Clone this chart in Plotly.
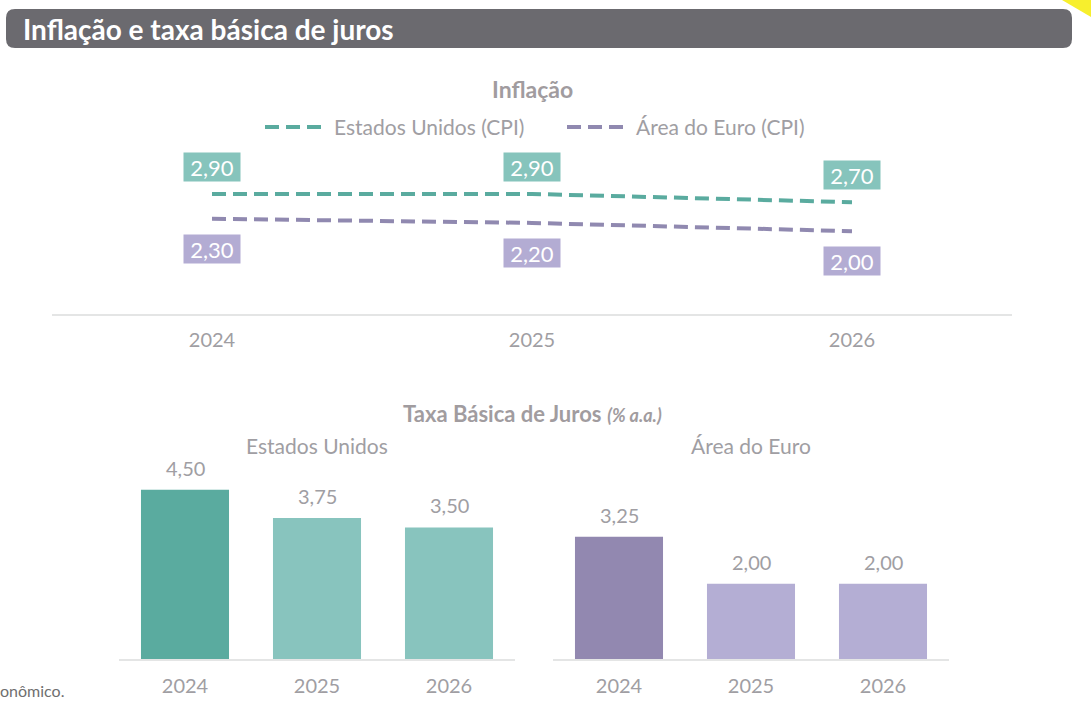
import plotly.graph_objects as go

# ---------------- data ----------------
years = ["2024", "2025", "2026"]
cpi_us = [2.90, 2.90, 2.70]
cpi_ea = [2.30, 2.20, 2.00]
rate_us = [4.50, 3.75, 3.50]
rate_ea = [3.25, 2.00, 2.00]

series_names = ["Estados Unidos (CPI)", "Área do Euro (CPI)"]
panel_names = ["Estados Unidos", "Área do Euro"]

# ---------------- styles ----------------
W, H = 1091, 709
FONT = "Lato"
TEAL_LINE = "#5aab9f"
PURP_LINE = "#9089b0"
TEAL_BOX = "#86c4bc"
PURP_BOX = "#b3acd3"
US_BAR = ["#5aab9f", "#88c4be", "#88c4be"]
EA_BAR = ["#9288b0", "#b4aed4", "#b4aed4"]
TXT = "#a19c9f"
TICK = "#a09ea3"
AXLINE = "#e4e5e5"
DASH = "14px,7px"


def px(x):
    return x / W


def py(y):
    return 1 - y / H


def fmt(v):
    return f"{v:.2f}".replace(".", ",")


fig = go.Figure()

# inflation lines
fig.add_trace(go.Scatter(x=years, y=cpi_us, mode="lines", name=series_names[0],
                         line=dict(color=TEAL_LINE, width=4, dash=DASH),
                         xaxis="x", yaxis="y", showlegend=False, hoverinfo="skip"))
fig.add_trace(go.Scatter(x=years, y=cpi_ea, mode="lines", name=series_names[1],
                         line=dict(color=PURP_LINE, width=4, dash=DASH),
                         xaxis="x", yaxis="y", showlegend=False, hoverinfo="skip"))

# bars
fig.add_trace(go.Bar(x=years, y=rate_us, marker=dict(color=US_BAR, line=dict(width=0)),
                     xaxis="x2", yaxis="y2", showlegend=False, hoverinfo="skip"))
fig.add_trace(go.Bar(x=years, y=rate_ea, marker=dict(color=EA_BAR, line=dict(width=0)),
                     xaxis="x3", yaxis="y3", showlegend=False, hoverinfo="skip"))

ann = []
box = dict(showarrow=False, width=56, height=28, borderpad=0, align="center", valign="middle",
           font=dict(family=FONT, size=22, color="white"))
# line value boxes
for i, v in enumerate(cpi_us):
    ann.append(dict(x=i, y=v, xref="x", yref="y", text=fmt(v), yshift=27, bgcolor=TEAL_BOX, **box))
for i, v in enumerate(cpi_ea):
    ann.append(dict(x=i, y=v, xref="x", yref="y", text=fmt(v), yshift=-30, bgcolor=PURP_BOX, **box))
# bar value labels
for i, v in enumerate(rate_us):
    ann.append(dict(x=i, y=v, xref="x2", yref="y2", text=fmt(v), showarrow=False,
                    yanchor="bottom", yshift=8,
                    font=dict(family=FONT, size=20, color=TICK)))
for i, v in enumerate(rate_ea):
    ann.append(dict(x=i, y=v, xref="x3", yref="y3", text=fmt(v), showarrow=False,
                    yanchor="bottom", yshift=8,
                    font=dict(family=FONT, size=20, color=TICK)))

# header title
ann.append(dict(x=px(21), y=py(29), xref="paper", yref="paper", xanchor="left", yanchor="middle",
                text="<b>Inflação e taxa básica de juros</b>", showarrow=False,
                font=dict(family=FONT, size=28, color="white")))
# chart titles
ann.append(dict(x=px(532), y=py(89), xref="paper", yref="paper", xanchor="center", yanchor="middle",
                text="<b>Inflação</b>", showarrow=False,
                font=dict(family=FONT, size=23, color=TXT)))
ann.append(dict(x=px(532), y=py(413), xref="paper", yref="paper", xanchor="center", yanchor="middle",
                text="<b>Taxa Básica de Juros</b> <b><i><span style='font-size:18px'>(% a.a.)</span></i></b>",
                showarrow=False, font=dict(family=FONT, size=22, color=TXT)))
ann.append(dict(x=px(317), y=py(445), xref="paper", yref="paper", xanchor="center", yanchor="middle",
                text=panel_names[0], showarrow=False, font=dict(family=FONT, size=21, color=TICK)))
ann.append(dict(x=px(751), y=py(445), xref="paper", yref="paper", xanchor="center", yanchor="middle",
                text=panel_names[1], showarrow=False, font=dict(family=FONT, size=21, color=TICK)))

# manual legend
shapes = []
leg = [(265, 322, 332, TEAL_LINE, series_names[0]), (567, 624, 634, PURP_LINE, series_names[1])]
for x0, x1, tx, col, name in leg:
    shapes.append(dict(type="line", xref="paper", yref="paper", x0=px(x0), x1=px(x1),
                       y0=py(127), y1=py(127), line=dict(color=col, width=4, dash=DASH)))
    ann.append(dict(x=px(tx), y=py(127), xref="paper", yref="paper", xanchor="left", yanchor="middle",
                    text=name, showarrow=False, font=dict(family=FONT, size=21, color=TICK)))

# footnote fragment
ann.append(dict(x=px(-2), y=py(690), xref="paper", yref="paper", xanchor="left", yanchor="middle",
                text="onômico.", showarrow=False, font=dict(family=FONT, size=16, color="#6f6f6f")))

# header bar (rounded rect)
x0, x1, y0, y1, r = 6, 1072, 9, 48, 9


def P(x, y):
    return f"{px(x)},{py(y)}"


path = (f"M {P(x0+r, y0)} L {P(x1-r, y0)} Q {P(x1, y0)} {P(x1, y0+r)} L {P(x1, y1-r)} "
        f"Q {P(x1, y1)} {P(x1-r, y1)} L {P(x0+r, y1)} Q {P(x0, y1)} {P(x0, y1-r)} "
        f"L {P(x0, y0+r)} Q {P(x0, y0)} {P(x0+r, y0)} Z")
shapes.insert(0, dict(type="path", xref="paper", yref="paper", layer="below", path=path,
                      fillcolor="#6b6a6f", line=dict(width=0)))
# yellow corner
shapes.append(dict(type="path", xref="paper", yref="paper",
                   path=f"M {P(1062, 0)} L {P(1091, 0)} L {P(1091, 17)} Z",
                   fillcolor="#f7ef2d", line=dict(width=0)))

axis_common = dict(showgrid=False, zeroline=False, showline=True, linecolor=AXLINE, linewidth=2,
                   ticks="", tickfont=dict(family=FONT, size=20, color=TICK), fixedrange=True)
yaxis_common = dict(showgrid=False, zeroline=False, showline=False, showticklabels=False,
                    ticks="", fixedrange=True)

fig.update_layout(
    width=W, height=H, margin=dict(l=0, r=0, t=0, b=0),
    paper_bgcolor="white", plot_bgcolor="white",
    font=dict(family=FONT),
    bargap=0.333,
    xaxis=dict(domain=[px(52), px(1012)], range=[-0.5, 2.5], type="category", anchor="y",
               ticklabelstandoff=7, **axis_common),
    yaxis=dict(domain=[py(314), py(150)], range=[0, 164 / 41.4], anchor="x", **yaxis_common),
    xaxis2=dict(domain=[px(119), px(515)], range=[-0.5, 2.5], type="category", anchor="y2",
                ticklabelstandoff=8, **axis_common),
    yaxis2=dict(domain=[py(659), py(471)], range=[0, 5], anchor="x2", **yaxis_common),
    xaxis3=dict(domain=[px(553), px(949)], range=[-0.5, 2.5], type="category", anchor="y3",
                ticklabelstandoff=8, **axis_common),
    yaxis3=dict(domain=[py(659), py(471)], range=[0, 5], anchor="x3", **yaxis_common),
    annotations=ann, shapes=shapes, showlegend=False,
)

fig.write_html("out.html")
